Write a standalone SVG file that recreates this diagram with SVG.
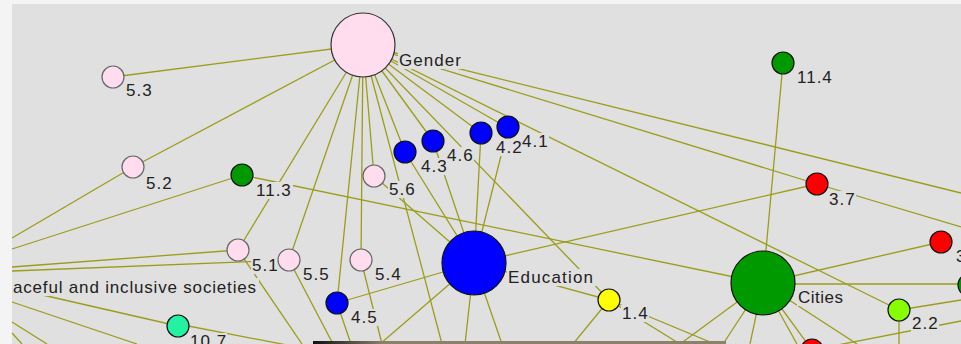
<svg xmlns="http://www.w3.org/2000/svg" width="961" height="344" viewBox="0 0 961 344">
<defs>
<linearGradient id="bar" x1="0" y1="0" x2="1" y2="0">
<stop offset="0" stop-color="#111"/>
<stop offset="0.17" stop-color="#8b806a"/>
<stop offset="1" stop-color="#8c816b"/>
</linearGradient>
<style>
.e{stroke:#9c9c1c;stroke-width:1.3;fill:none}
.n{stroke:#111;stroke-width:1.2}
.pk{fill:#ffdcee;stroke:#666;stroke-width:1.2}
.bl{fill:#0000ff}
.gr{fill:#009900}
.rd{fill:#ff0000}
.lb{fill:#e0e0e0}
text{font-family:"Liberation Sans",Arial,sans-serif;font-size:17px;letter-spacing:1px;fill:#222}
</style>
</defs>
<rect x="0" y="0" width="961" height="344" fill="#f4f4f4"/>
<rect x="12" y="4" width="949" height="340" fill="#e0e0e0"/>
<g id="edges">
<line class="e" x1="363" y1="45" x2="113" y2="77"/>
<line class="e" x1="363" y1="45" x2="133" y2="167"/>
<line class="e" x1="363" y1="45" x2="238" y2="250"/>
<line class="e" x1="363" y1="45" x2="289" y2="260"/>
<line class="e" x1="363" y1="45" x2="361" y2="260"/>
<line class="e" x1="363" y1="45" x2="374" y2="176"/>
<line class="e" x1="363" y1="45" x2="337" y2="303"/>
<line class="e" x1="363" y1="45" x2="405" y2="152"/>
<line class="e" x1="363" y1="45" x2="433" y2="141"/>
<line class="e" x1="363" y1="45" x2="481" y2="133"/>
<line class="e" x1="363" y1="45" x2="508" y2="128"/>
<line class="e" x1="363" y1="45" x2="817" y2="184"/>
<line class="e" x1="363" y1="45" x2="899" y2="310"/>
<line class="e" x1="363" y1="45" x2="961" y2="193"/>
<line class="e" x1="363" y1="45" x2="609" y2="300"/>
<line class="e" x1="363" y1="45" x2="442" y2="344"/>
<line class="e" x1="133" y1="167" x2="12" y2="238"/>
<line class="e" x1="242" y1="175" x2="12" y2="249"/>
<line class="e" x1="238" y1="250" x2="12" y2="267"/>
<line class="e" x1="289" y1="260" x2="12" y2="271"/>
<line class="e" x1="12" y1="288" x2="178" y2="326"/>
<line class="e" x1="178" y1="324" x2="292" y2="346"/>
<line class="e" x1="12" y1="302" x2="137" y2="344"/>
<line class="e" x1="12" y1="322" x2="47" y2="344"/>
<line class="e" x1="12" y1="333" x2="22" y2="344"/>
<line class="e" x1="242" y1="175" x2="763" y2="283"/>
<line class="e" x1="238" y1="250" x2="302" y2="344"/>
<line class="e" x1="289" y1="260" x2="333" y2="344"/>
<line class="e" x1="361" y1="260" x2="382" y2="344"/>
<line class="e" x1="337" y1="303" x2="474" y2="263"/>
<line class="e" x1="337" y1="303" x2="351" y2="344"/>
<line class="e" x1="405" y1="152" x2="474" y2="263"/>
<line class="e" x1="433" y1="141" x2="474" y2="263"/>
<line class="e" x1="481" y1="133" x2="474" y2="263"/>
<line class="e" x1="508" y1="128" x2="474" y2="263"/>
<line class="e" x1="374" y1="176" x2="474" y2="263"/>
<line class="e" x1="474" y1="263" x2="380" y2="344"/>
<line class="e" x1="474" y1="263" x2="465" y2="344"/>
<line class="e" x1="474" y1="263" x2="502" y2="344"/>
<line class="e" x1="474" y1="263" x2="817" y2="184"/>
<line class="e" x1="474" y1="263" x2="609" y2="300"/>
<line class="e" x1="609" y1="300" x2="573" y2="344"/>
<line class="e" x1="609" y1="300" x2="680" y2="344"/>
<line class="e" x1="609" y1="300" x2="715" y2="344"/>
<line class="e" x1="783" y1="63" x2="763" y2="283"/>
<line class="e" x1="763" y1="284" x2="969" y2="284"/>
<line class="e" x1="763" y1="283" x2="941" y2="242"/>
<line class="e" x1="763" y1="283" x2="812" y2="350"/>
<line class="e" x1="763" y1="283" x2="680" y2="344"/>
<line class="e" x1="763" y1="283" x2="723" y2="344"/>
<line class="e" x1="763" y1="283" x2="750" y2="344"/>
<line class="e" x1="763" y1="283" x2="797" y2="344"/>
<line class="e" x1="763" y1="283" x2="857" y2="344"/>
<line class="e" x1="817" y1="184" x2="961" y2="227"/>
<line class="e" x1="899" y1="310" x2="961" y2="300"/>
<line class="e" x1="899" y1="310" x2="899" y2="344"/>
<line class="e" x1="812" y1="350" x2="961" y2="321"/>
</g>
<g id="node-gender"><circle cx="363" cy="45" r="32" fill="#ffdcee" stroke="#333" stroke-width="1.2"/><rect class="lb" x="398" y="52" width="66" height="17"/><text x="399" y="66" textLength="63" lengthAdjust="spacing">Gender</text></g>
<g id="node-5-3"><circle class="pk" cx="113" cy="77" r="11"/><rect class="lb" x="125" y="82" width="28" height="17"/><text x="126" y="96">5.3</text></g>
<g id="node-5-2"><circle class="pk" cx="133" cy="167" r="11"/><rect class="lb" x="145" y="175" width="28" height="17"/><text x="146" y="189">5.2</text></g>
<g id="node-11-3"><circle class="n gr" cx="242" cy="175" r="11"/><rect class="lb" x="255" y="182" width="38" height="17"/><text x="256" y="196">11.3</text></g>
<g id="node-5-6"><circle class="pk" cx="374" cy="176" r="11"/><rect class="lb" x="388" y="181" width="28" height="17"/><text x="389" y="195">5.6</text></g>
<g id="node-4-3"><circle class="n bl" cx="405" cy="152" r="11"/><rect class="lb" x="420" y="158" width="28" height="17"/><text x="421" y="172">4.3</text></g>
<g id="node-4-6"><circle class="n bl" cx="433" cy="141" r="11"/><rect class="lb" x="446" y="147" width="28" height="17"/><text x="447" y="161">4.6</text></g>
<g id="node-4-2"><circle class="n bl" cx="481" cy="133" r="11"/><rect class="lb" x="495" y="139" width="28" height="17"/><text x="496" y="153">4.2</text></g>
<g id="node-4-1"><circle class="n bl" cx="508" cy="127" r="11"/><rect class="lb" x="521" y="133" width="28" height="17"/><text x="522" y="147">4.1</text></g>
<g id="node-11-4"><circle class="n gr" cx="783" cy="63" r="11"/><rect class="lb" x="796" y="69" width="38" height="17"/><text x="797" y="83">11.4</text></g>
<g id="node-3-7"><circle class="n rd" cx="817" cy="184" r="11"/><rect class="lb" x="828" y="191" width="28" height="17"/><text x="829" y="205">3.7</text></g>
<g id="node-3-x"><circle class="n rd" cx="941" cy="242" r="11"/><rect class="lb" x="955" y="248" width="12" height="17"/><text x="956" y="262">3</text></g>
<g id="node-5-1"><circle class="pk" cx="238" cy="250" r="11"/><rect class="lb" x="251" y="257" width="28" height="17"/><text x="252" y="271">5.1</text></g>
<g id="node-5-5"><circle class="pk" cx="289" cy="260" r="11"/><rect class="lb" x="302" y="266" width="28" height="17"/><text x="303" y="280">5.5</text></g>
<g id="node-5-4"><circle class="pk" cx="361" cy="260" r="11"/><rect class="lb" x="374" y="266" width="28" height="17"/><text x="375" y="280">5.4</text></g>
<g id="node-education"><circle class="n bl" cx="474" cy="263" r="32"/><rect class="lb" x="507" y="269" width="89" height="17"/><text x="508" y="283" textLength="86" lengthAdjust="spacing">Education</text></g>
<g id="node-cities"><circle class="n gr" cx="763" cy="283" r="32"/><rect class="lb" x="797" y="289" width="49" height="17"/><text x="798" y="303" textLength="46" lengthAdjust="spacing">Cities</text></g>
<g id="node-11-x"><circle class="n gr" cx="969" cy="285" r="11"/></g>
<g id="node-4-5"><circle class="n bl" cx="337" cy="303" r="11"/><rect class="lb" x="350" y="309" width="28" height="17"/><text x="351" y="323">4.5</text></g>
<g id="node-1-4"><circle class="n" fill="#ffff00" cx="609" cy="300" r="11"/><rect class="lb" x="621" y="305" width="28" height="17"/><text x="622" y="319">1.4</text></g>
<g id="node-2-2"><circle class="n" fill="#88ff00" cx="899" cy="310" r="11"/><rect class="lb" x="911" y="315" width="28" height="17"/><text x="912" y="329">2.2</text></g>
<g id="node-10-7"><circle class="n" fill="#22f2a2" cx="178" cy="326" r="11"/><rect class="lb" x="189" y="333" width="38" height="17"/><text x="190" y="347">10.7</text></g>
<g id="node-3-x-bottom"><circle class="n rd" cx="812" cy="350" r="11"/></g>
<g id="node-peaceful"><rect class="lb" x="12" y="278" width="247" height="18"/><text x="13" y="293" textLength="244" lengthAdjust="spacing">aceful and inclusive societies</text></g>
<rect x="313" y="341" width="413" height="3" fill="url(#bar)"/>
</svg>
